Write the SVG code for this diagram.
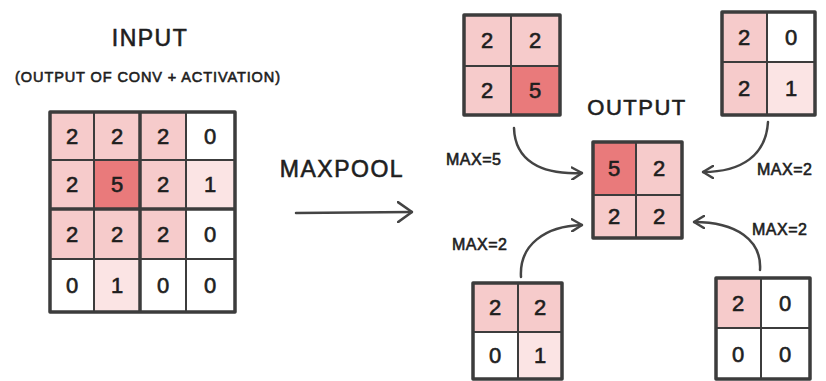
<svg xmlns="http://www.w3.org/2000/svg" width="826" height="381" viewBox="0 0 826 381">
<defs>
<style>
.t{font-family:"Liberation Sans",Arial,sans-serif;fill:#1e1e1e;stroke:#1e1e1e;stroke-width:0.6}
.d{font-size:22px;text-anchor:middle}
.lbl{font-size:16px;letter-spacing:0.5px}
.ttl{font-size:23px;text-anchor:middle;letter-spacing:1.5px}
.sub{font-size:14.5px;text-anchor:middle;letter-spacing:0.9px}
.g{stroke:#3c3c3c;stroke-width:2;fill:none;stroke-linecap:round}
.o{stroke:#3c3c3c;stroke-width:3.5;fill:none;stroke-linejoin:round}
.c2{fill:#f6cbcb}
.c5{fill:#e97a7b}
.c1{fill:#fbe4e4}
.c0{fill:#ffffff}
.a{stroke:#444;stroke-width:2.5;fill:none;stroke-linecap:round}
</style>
<marker id="ah" viewBox="0 0 12 14" refX="11" refY="7" markerWidth="12" markerHeight="14" markerUnits="userSpaceOnUse" orient="auto">
<path d="M1,1 L11,7 L1,13" fill="none" stroke="#444" stroke-width="2.5" stroke-linecap="round" stroke-linejoin="round"/>
</marker>
<marker id="ahb" viewBox="0 0 16 22" refX="15" refY="11" markerWidth="16" markerHeight="22" markerUnits="userSpaceOnUse" orient="auto">
<path d="M1,1 L15,11 L1,21" fill="none" stroke="#444" stroke-width="2.5" stroke-linecap="round" stroke-linejoin="round"/>
</marker>
</defs>
<rect width="826" height="381" fill="#ffffff"/>

<g id="titles">
<text class="t ttl" x="150" y="46">INPUT</text>
<text class="t sub" x="148" y="82">(OUTPUT OF CONV + ACTIVATION)</text>
<text class="t ttl" x="342" y="177">MAXPOOL</text>
<text class="t ttl" x="637" y="115" style="font-size:22px">OUTPUT</text>
</g>

<g id="input-grid">
<rect class="c2" x="50" y="112" width="44" height="48"/>
<rect class="c2" x="94" y="112" width="46" height="48"/>
<rect class="c2" x="140" y="112" width="46" height="48"/>
<rect class="c0" x="186" y="112" width="49" height="48"/>
<rect class="c2" x="50" y="160" width="44" height="49"/>
<rect class="c5" x="94" y="160" width="46" height="49"/>
<rect class="c2" x="140" y="160" width="46" height="49"/>
<rect class="c1" x="186" y="160" width="49" height="49"/>
<rect class="c2" x="50" y="209" width="44" height="50"/>
<rect class="c2" x="94" y="209" width="46" height="50"/>
<rect class="c2" x="140" y="209" width="46" height="50"/>
<rect class="c0" x="186" y="209" width="49" height="50"/>
<rect class="c0" x="50" y="259" width="44" height="53"/>
<rect class="c1" x="94" y="259" width="46" height="53"/>
<rect class="c0" x="140" y="259" width="46" height="53"/>
<rect class="c0" x="186" y="259" width="49" height="53"/>
<path class="g" d="M94,112 V312 M186,112 V312 M50,160 H235 M50,259 H235"/>
<path class="o" d="M140,112 V312 M50,209 H235"/>
<rect class="o" x="50" y="112" width="185" height="200"/>
<g class="t d">
<text x="72" y="144">2</text><text x="117" y="144">2</text><text x="163" y="144">2</text><text x="210" y="144">0</text>
<text x="72" y="192">2</text><text x="117" y="192">5</text><text x="163" y="192">2</text><text x="210" y="192">1</text>
<text x="72" y="242">2</text><text x="117" y="242">2</text><text x="163" y="242">2</text><text x="210" y="242">0</text>
<text x="72" y="293">0</text><text x="117" y="293">1</text><text x="163" y="293">0</text><text x="210" y="293">0</text>
</g>
</g>

<g id="pool-top-left">
<rect class="c2" x="464" y="15" width="47" height="51"/>
<rect class="c2" x="511" y="15" width="49" height="51"/>
<rect class="c2" x="464" y="66" width="47" height="49"/>
<rect class="c5" x="511" y="66" width="49" height="49"/>
<path class="g" d="M511,15 V115 M464,66 H560"/>
<rect class="o" x="464" y="15" width="96" height="100"/>
<g class="t d">
<text x="487" y="48">2</text><text x="535" y="48">2</text>
<text x="487" y="98">2</text><text x="535" y="98">5</text>
</g>
</g>

<g id="pool-top-right">
<rect class="c2" x="722" y="12" width="45" height="50"/>
<rect class="c0" x="767" y="12" width="48" height="50"/>
<rect class="c2" x="722" y="62" width="45" height="53"/>
<rect class="c1" x="767" y="62" width="48" height="53"/>
<path class="g" d="M767,12 V115 M722,62 H815"/>
<rect class="o" x="722" y="12" width="93" height="103"/>
<g class="t d">
<text x="744" y="45">2</text><text x="791" y="45">0</text>
<text x="744" y="96">2</text><text x="791" y="96">1</text>
</g>
</g>

<g id="pool-bottom-left">
<rect class="c2" x="473" y="283" width="45" height="49"/>
<rect class="c2" x="518" y="283" width="44" height="49"/>
<rect class="c0" x="473" y="332" width="45" height="47"/>
<rect class="c1" x="518" y="332" width="44" height="47"/>
<path class="g" d="M518,283 V379 M473,332 H562"/>
<rect class="o" x="473" y="283" width="89" height="96"/>
<g class="t d">
<text x="495" y="315">2</text><text x="540" y="315">2</text>
<text x="495" y="363">0</text><text x="540" y="363">1</text>
</g>
</g>

<g id="pool-bottom-right">
<rect class="c2" x="716" y="278" width="45" height="50"/>
<rect class="c0" x="761" y="278" width="49" height="50"/>
<rect class="c0" x="716" y="328" width="45" height="51"/>
<rect class="c0" x="761" y="328" width="49" height="51"/>
<path class="g" d="M761,278 V379 M716,328 H810"/>
<rect class="o" x="716" y="278" width="94" height="101"/>
<g class="t d">
<text x="738" y="311">2</text><text x="785" y="311">0</text>
<text x="738" y="362">0</text><text x="785" y="362">0</text>
</g>
</g>

<g id="output-grid">
<rect class="c5" x="593" y="142" width="43" height="53"/>
<rect class="c2" x="636" y="142" width="46" height="53"/>
<rect class="c2" x="593" y="195" width="43" height="43"/>
<rect class="c2" x="636" y="195" width="46" height="43"/>
<path class="g" d="M636,142 V238 M593,195 H682"/>
<rect class="o" x="593" y="142" width="89" height="96"/>
<g class="t d">
<text x="614" y="176">5</text><text x="659" y="176">2</text>
<text x="614" y="224">2</text><text x="659" y="224">2</text>
</g>
</g>

<g id="connectors">
<path class="a" d="M296,213 L412,212" marker-end="url(#ahb)"/>
<path class="a" d="M514,128 C515,160 540,175 582,173" marker-end="url(#ah)"/>
<path class="a" d="M768,122 C766,155 742,172 703,172" marker-end="url(#ah)"/>
<path class="a" d="M521,277 C519,245 545,226 582,225" marker-end="url(#ah)"/>
<path class="a" d="M760,270 C762,240 736,222 694,222" marker-end="url(#ah)"/>
</g>

<g id="labels">
<text class="t lbl" x="446" y="165">MAX=5</text>
<text class="t lbl" x="757" y="175">MAX=2</text>
<text class="t lbl" x="452" y="250">MAX=2</text>
<text class="t lbl" x="752" y="235">MAX=2</text>
</g>
</svg>
